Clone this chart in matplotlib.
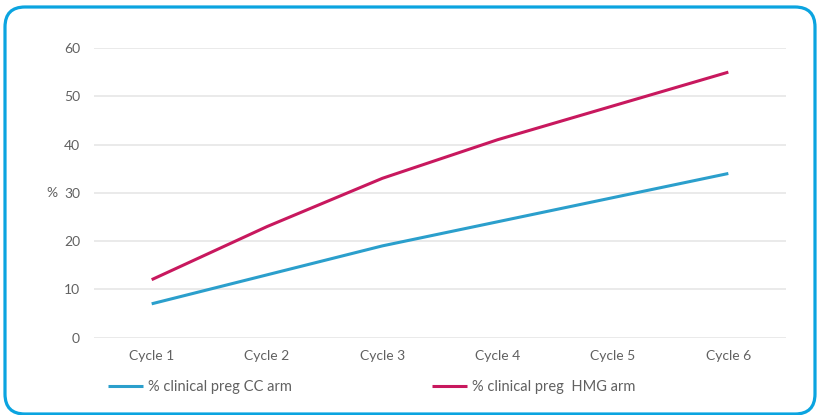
import matplotlib
matplotlib.use("Agg")
import matplotlib.pyplot as plt
from matplotlib.patches import FancyBboxPatch
from matplotlib.transforms import IdentityTransform

# clinical pregnancy rate per cycle, two treatment arms
cycles = ["Cycle 1", "Cycle 2", "Cycle 3", "Cycle 4", "Cycle 5", "Cycle 6"]
cc_arm = [7, 13, 19, 24, 29, 34]
hmg_arm = [12, 23, 33, 41, 48, 55]
y_ticks = [0, 10, 20, 30, 40, 50, 60]

BLUE = "#2b9fcc"
MAGENTA = "#c8185e"
FRAME = "#0ba4e0"
TEXT = "#616161"

plt.rcParams['font.family'] = ['Lato', 'DejaVu Sans']

W, H = 818, 415
fig = plt.figure(figsize=(W / 100, H / 100), dpi=100)
ax = fig.add_axes([94 / W, (H - 337.6) / H, (786 - 94) / W, (337.6 - 48) / H])

x = list(range(len(cycles)))
ax.plot(x, cc_arm, color=BLUE, lw=2.2, label="% clinical preg CC arm", solid_capstyle="butt")
ax.plot(x, hmg_arm, color=MAGENTA, lw=2.2, label="% clinical preg  HMG arm", solid_capstyle="butt")

ax.set_xlim(-0.5, len(cycles) - 0.5)
ax.set_ylim(0, 60)
ax.set_yticks(y_ticks)
ax.set_xticks(x)
ax.set_xticklabels(cycles)
ax.yaxis.grid(True, color="#e6e6e6", lw=1.2)
ax.set_axisbelow(True)
for s in ax.spines.values():
    s.set_visible(False)
ax.tick_params(length=0, labelsize=10, labelcolor=TEXT)
ax.tick_params(axis="y", pad=10)
ax.tick_params(axis="x", pad=9)
ax.set_ylabel("%", rotation=0, color=TEXT, fontsize=10, ha="center", va="center")
ax.yaxis.set_label_coords(-0.061, 0.5)

leg = ax.legend(loc="upper left", bbox_to_anchor=(0.012, -0.125), ncol=2, frameon=False,
                fontsize=10.5, handlelength=2.4, handletextpad=0.35, columnspacing=9.6,
                borderaxespad=0)
for t in leg.get_texts():
    t.set_color(TEXT)

# rounded blue frame around the chart
frame = FancyBboxPatch((5 + 20, 1 + 20), (815 - 5) - 40, (408 - 1) - 40,
                       boxstyle="round,pad=20", transform=IdentityTransform(),
                       fill=False, ec=FRAME, lw=2.3)
fig.patches.append(frame)

fig.savefig("out.png", dpi=100)
